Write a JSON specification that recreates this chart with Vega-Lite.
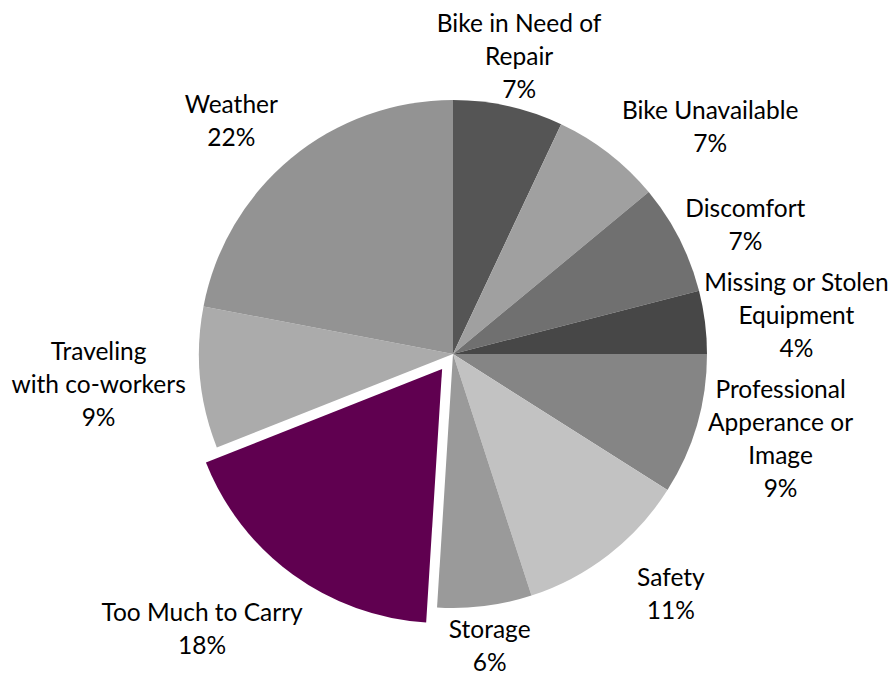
{
  "$schema": "https://vega.github.io/schema/vega-lite/v6.json",
  "width": 882,
  "height": 642,
  "autosize": {"type": "none"},
  "padding": {"left": 12, "top": 33, "right": 0, "bottom": 0},
  "background": "white",
  "config": {"view": {"stroke": null}, "text": {"font": "Lato", "fontSize": 24.5, "lineHeight": 33, "align": "center", "baseline": "middle", "color": "black"}},
  "data": {
    "values": [
      {"order": 1, "category": "Bike in Need of Repair", "value": 7, "label": "Bike in Need of\nRepair\n7%"},
      {"order": 2, "category": "Bike Unavailable", "value": 7, "label": "Bike Unavailable\n7%"},
      {"order": 3, "category": "Discomfort", "value": 7, "label": "Discomfort\n7%"},
      {"order": 4, "category": "Missing or Stolen Equipment", "value": 4, "label": "Missing or Stolen\nEquipment\n4%"},
      {"order": 5, "category": "Professional Apperance or Image", "value": 9, "label": "Professional\nApperance or\nImage\n9%"},
      {"order": 6, "category": "Safety", "value": 11, "label": "Safety\n11%"},
      {"order": 7, "category": "Storage", "value": 6, "label": "Storage\n6%"},
      {"order": 8, "category": "Too Much to Carry", "value": 18, "label": "Too Much to Carry\n18%"},
      {"order": 9, "category": "Traveling with co-workers", "value": 9, "label": "Traveling\nwith co-workers\n9%"},
      {"order": 10, "category": "Weather", "value": 22, "label": "Weather\n22%"}
    ]
  },
  "encoding": {
    "theta": {"field": "value", "type": "quantitative", "stack": true},
    "order": {"field": "order", "type": "quantitative"}
  },
  "layer": [
    {
      "mark": {"type": "arc", "radius": 254},
      "encoding": {
        "color": {
          "field": "category",
          "type": "nominal",
          "legend": null,
          "scale": {
            "domain": ["Bike in Need of Repair", "Bike Unavailable", "Discomfort", "Missing or Stolen Equipment", "Professional Apperance or Image", "Safety", "Storage", "Too Much to Carry", "Traveling with co-workers", "Weather"],
            "range": ["#555555", "#a0a0a0", "#707070", "#474747", "#858585", "#c2c2c2", "#9a9a9a", "#600050", "#ababab", "#939393"]
          }
        },
        "opacity": {"condition": {"test": "datum.category === 'Too Much to Carry'", "value": 0}, "value": 1}
      }
    },
    {
      "mark": {"type": "arc", "radius": 254, "xOffset": -10.9, "yOffset": 15},
      "encoding": {
        "color": {"field": "category", "type": "nominal", "legend": null},
        "opacity": {"condition": {"test": "datum.category === 'Too Much to Carry'", "value": 1}, "value": 0}
      }
    },
    {
      "mark": {"type": "text", "radius": 303, "dy": -33, "lineBreak": "\n"},
      "encoding": {"text": {"condition": {"test": "datum.category === 'Bike in Need of Repair'", "field": "label"}, "value": ""}}
    },
    {
      "mark": {"type": "text", "radius": 338, "dx": 50, "dy": 25.5, "lineBreak": "\n"},
      "encoding": {"text": {"condition": {"test": "datum.category === 'Bike Unavailable'", "field": "label"}, "value": ""}}
    },
    {
      "mark": {"type": "text", "radius": 318, "dx": 9, "dy": 0.5, "lineBreak": "\n"},
      "encoding": {"text": {"condition": {"test": "datum.category === 'Discomfort'", "field": "label"}, "value": ""}}
    },
    {
      "mark": {"type": "text", "radius": 329, "dx": 17, "dy": -29, "lineBreak": "\n"},
      "encoding": {"text": {"condition": {"test": "datum.category === 'Missing or Stolen Equipment'", "field": "label"}, "value": ""}}
    },
    {
      "mark": {"type": "text", "radius": 338, "dx": 3, "dy": -57.5, "lineBreak": "\n"},
      "encoding": {"text": {"condition": {"test": "datum.category === 'Professional Apperance or Image'", "field": "label"}, "value": ""}}
    },
    {
      "mark": {"type": "text", "radius": 318, "dx": 23, "dy": -26.5, "lineBreak": "\n"},
      "encoding": {"text": {"condition": {"test": "datum.category === 'Safety'", "field": "label"}, "value": ""}}
    },
    {
      "mark": {"type": "text", "radius": 293, "dy": -13.5, "lineBreak": "\n"},
      "encoding": {"text": {"condition": {"test": "datum.category === 'Storage'", "field": "label"}, "value": ""}}
    },
    {
      "mark": {"type": "text", "radius": 369, "dx": -34, "dy": -38.5, "lineBreak": "\n"},
      "encoding": {"text": {"condition": {"test": "datum.category === 'Too Much to Carry'", "field": "label"}, "value": ""}}
    },
    {
      "mark": {"type": "text", "radius": 356, "dy": -35, "lineBreak": "\n"},
      "encoding": {"text": {"condition": {"test": "datum.category === 'Traveling with co-workers'", "field": "label"}, "value": ""}}
    },
    {
      "mark": {"type": "text", "radius": 318, "dx": -19, "dy": -2.5, "lineBreak": "\n"},
      "encoding": {"text": {"condition": {"test": "datum.category === 'Weather'", "field": "label"}, "value": ""}}
    }
  ]
}
